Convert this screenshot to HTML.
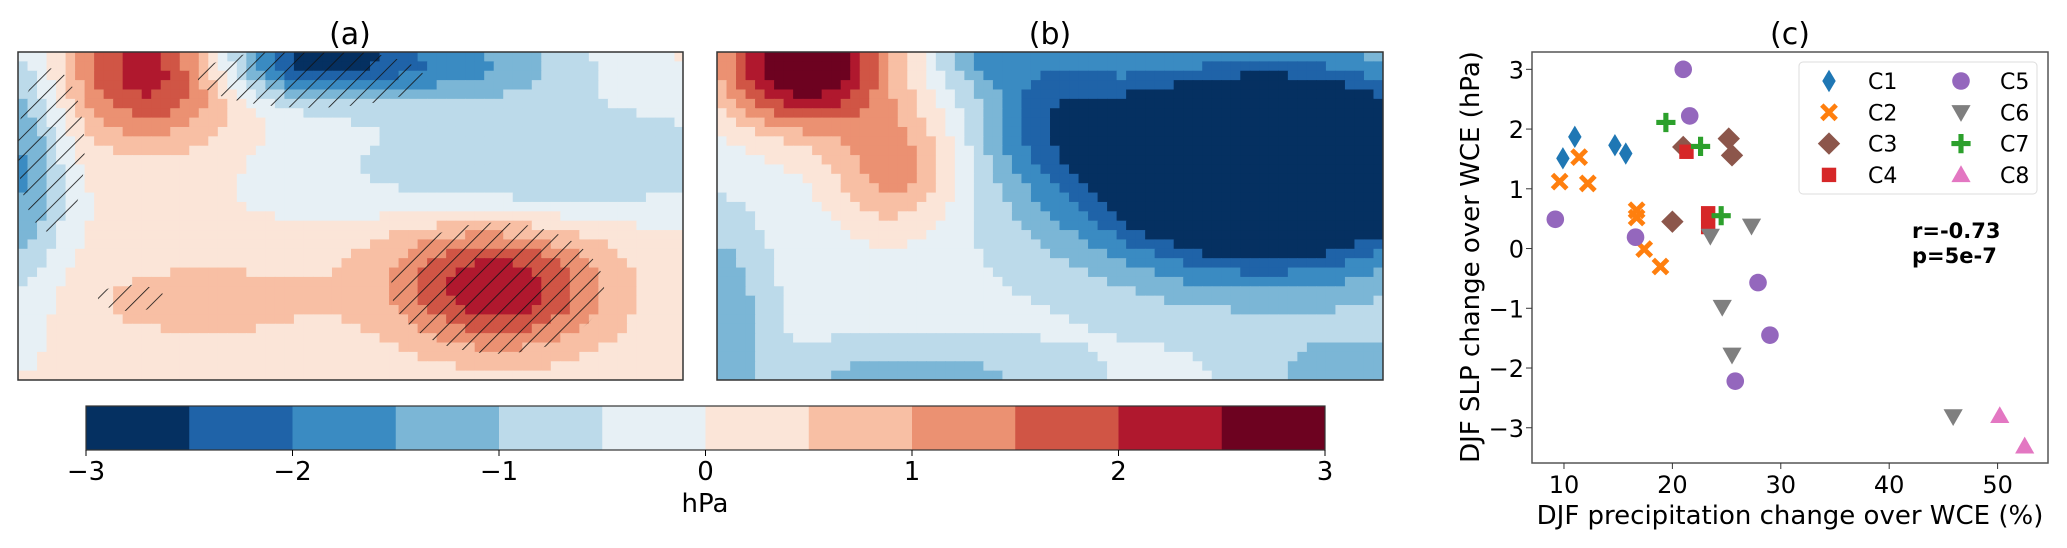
<!DOCTYPE html>
<html><head><meta charset="utf-8"><style>
body{margin:0;background:#fff;width:2067px;height:544px;overflow:hidden;font-family:"DejaVu Sans","Liberation Sans",sans-serif}
svg text{font-family:"DejaVu Sans","Liberation Sans",sans-serif}
</style></head><body>
<svg id="fig" width="2067" height="544" viewBox="0 0 2067 544" xmlns="http://www.w3.org/2000/svg">
<defs>
<pattern id="hatch" patternUnits="userSpaceOnUse" width="14" height="14" patternTransform="rotate(45)"><line x1="0" y1="0" x2="0" y2="14" stroke="#111" stroke-width="1.6"/></pattern>
<clipPath id="clipA"><rect x="18" y="52" width="665" height="328"/></clipPath>
<clipPath id="clipB"><rect x="717" y="52" width="666" height="328"/></clipPath>
</defs>
<g id="mapA" clip-path="url(#clipA)"></g>
<g id="mapB" clip-path="url(#clipB)"></g>
<rect x="18" y="52" width="665" height="328" fill="none" stroke="#333" stroke-width="1.5"/>
<rect x="717" y="52" width="666" height="328" fill="none" stroke="#333" stroke-width="1.5"/>
<text x="350" y="44" font-size="30" text-anchor="middle">(a)</text>
<text x="1050" y="44" font-size="30" text-anchor="middle">(b)</text>
<g id="cbar"></g>
<text x="705" y="512" font-size="26" text-anchor="middle">hPa</text>
<g id="scatter"></g>
<text x="1790" y="44" font-size="30" text-anchor="middle">(c)</text>
</svg>
<script>
const NS="http://www.w3.org/2000/svg";
const cmap=["#053061","#1f63a8","#3a8bc2","#7bb6d6","#bcdaea","#e7f0f5","#fbe5d8","#f8bfa4","#eb9172","#d05545","#b0182e","#6d0220"];
const cbarTicks=[-3,-2,-1,0,1,2,3];
// anomaly centres for the maps: [u, v, value, sigmaU, sigmaV]
const blobsA=[[0.2,0.05,2.3,0.09,0.15],[0.44,0.02,-2.7,0.11,0.09],[0.68,0.04,-1.5,0.13,0.09],[0.0,0.35,-1.7,0.05,0.28],[0.66,0.32,-0.7,0.2,0.1],[0.92,0.3,-0.7,0.15,0.12],[0.7,0.45,-0.4,0.2,0.07],[0.73,0.73,2.1,0.11,0.13],[0.28,0.76,0.6,0.15,0.1],[0.64,0.64,0.4,0.1,0.12]];
const baseA=0.12;
const blobsB=[[0.13,0.03,3.6,0.09,0.14],[0.27,0.35,1.6,0.07,0.14],[0.82,0.35,-5.0,0.2,0.22],[0.5,0.15,-1.2,0.08,0.15],[0.0,0.8,-1.2,0.05,0.2],[0.3,1.0,-1.0,0.15,0.08],[0.95,1.0,-1.0,0.1,0.1],[0.4,0.02,-1.0,0.05,0.05]];
const baseB=-0.3;
const hatchA=[[0.44,0.08,0.17,0.09],[0.72,0.72,0.16,0.2],[0.05,0.3,0.05,0.25],[0.17,0.75,0.05,0.04]];
const xCats=["C1","C2","C3","C4","C5","C6","C7","C8"];
const xC1=[9.9,11.0,14.7,15.7]; const yC1=[1.51,1.87,1.73,1.59];
const xC2=[11.4,9.6,12.2,16.7,16.7,17.4,18.9]; const yC2=[1.53,1.12,1.09,0.64,0.52,-0.01,-0.30];
const xC3=[21.0,25.2,25.5,20.0]; const yC3=[1.70,1.84,1.56,0.45];
const xC4=[21.3,23.3,23.3]; const yC4=[1.62,0.59,0.36];
const xC5=[21.0,21.6,9.2,16.6,27.9,29.0,25.8]; const yC5=[3.0,2.22,0.49,0.19,-0.57,-1.45,-2.22];
const xC6=[27.3,23.5,24.6,25.5,45.9]; const yC6=[0.38,0.21,-0.98,-1.78,-2.81];
const xC7=[19.4,22.6,24.5]; const yC7=[2.11,1.71,0.55];
const xC8=[50.2,52.5]; const yC8=[-2.80,-3.31];
const xTicks=[10,20,30,40,50]; const yTicks=[-3,-2,-1,0,1,2,3];
const seriesX=[xC1,xC2,xC3,xC4,xC5,xC6,xC7,xC8];
const seriesY=[yC1,yC2,yC3,yC4,yC5,yC6,yC7,yC8];
const colors=["#1f77b4","#ff7f0e","#8c564b","#d62728","#9467bd","#7f7f7f","#2ca02c","#e377c2"];
const shapes=["thin_diamond","x","diamond","square","circle","tri_down","plus","tri_up"];

function el(tag,attrs,parent){const e=document.createElementNS(NS,tag);for(const k in attrs)e.setAttribute(k,attrs[k]);parent.appendChild(e);return e;}
function colorFor(v){let i=Math.floor((v+3)/0.5);if(i<0)i=0;if(i>11)i=11;return cmap[i];}
function field(blobs,base,u,v){let s=base;for(const b of blobs){const du=(u-b[0])/b[3],dv=(v-b[1])/b[4];s+=b[2]*Math.exp(-0.5*(du*du+dv*dv));}return s;}
function drawMap(g,x0,blobs,base,hatch){
  const W=666,H=328,nx=70,ny=35,cw=W/nx,ch=H/ny;
  for(let j=0;j<ny;j++)for(let i=0;i<nx;i++){
    const v=field(blobs,base,(i+0.5)/nx,(j+0.5)/ny);
    const r=el("rect",{x:x0+i*cw,y:52+j*ch,width:cw+0.6,height:ch+0.6,fill:colorFor(v)},g);
    
    
  }
  if(hatch)for(const h of hatch){
    const e=el("ellipse",{cx:x0+h[0]*W,cy:52+h[1]*H,rx:h[2]*W,ry:h[3]*H,fill:"url(#hatch)"},g);
    
    
  }
}
drawMap(document.getElementById("mapA"),18,blobsA,baseA,hatchA);
drawMap(document.getElementById("mapB"),717,blobsB,baseB,null);

const cb=document.getElementById("cbar");
const cbX0=86,cbX1=1325,cbY0=406,cbY1=450;
const cx=v=>cbX0+(v+3)/6*(cbX1-cbX0);
for(let k=0;k<12;k++){
  const r=el("rect",{x:cx(-3+k*0.5),y:cbY0,width:(cbX1-cbX0)/12+0.5,height:cbY1-cbY0,fill:cmap[k]},cb);
  
  
}
el("rect",{x:cbX0,y:cbY0,width:cbX1-cbX0,height:cbY1-cbY0,fill:"none",stroke:"#333","stroke-width":1.2},cb);
for(const t of cbarTicks){
  el("line",{x1:cx(t),x2:cx(t),y1:cbY1,y2:cbY1+6,stroke:"#000"},cb);
  const tx=el("text",{x:cx(t),y:480,"font-size":26,"text-anchor":"middle"},cb);
  tx.textContent=(t<0?"\u2212"+(-t):String(t));
  
  
}

const sg=document.getElementById("scatter");
const PX0=1532,PX1=2048,PY0=52,PY1=463;
const xmin=7.05,xmax=54.65,ymin=-3.59,ymax=3.29;
const sx=v=>PX0+(v-xmin)/(xmax-xmin)*(PX1-PX0);
const sy=v=>PY1-(v-ymin)/(ymax-ymin)*(PY1-PY0);
function marker(g,shape,x,y,c,s){
  let e;
  if(shape==="circle")e=el("circle",{cx:x,cy:y,r:s*0.55,fill:c},g);
  else if(shape==="square")e=el("rect",{x:x-s*0.45,y:y-s*0.45,width:s*0.9,height:s*0.9,fill:c},g);
  else if(shape==="diamond")e=el("polygon",{points:`${x},${y-s*0.7} ${x+s*0.7},${y} ${x},${y+s*0.7} ${x-s*0.7},${y}`,fill:c},g);
  else if(shape==="thin_diamond")e=el("polygon",{points:`${x},${y-s*0.7} ${x+s*0.42},${y} ${x},${y+s*0.7} ${x-s*0.42},${y}`,fill:c},g);
  else if(shape==="tri_down")e=el("polygon",{points:`${x-s*0.6},${y-s*0.45} ${x+s*0.6},${y-s*0.45} ${x},${y+s*0.6}`,fill:c},g);
  else if(shape==="tri_up")e=el("polygon",{points:`${x-s*0.6},${y+s*0.45} ${x+s*0.6},${y+s*0.45} ${x},${y-s*0.6}`,fill:c},g);
  else if(shape==="plus")e=el("path",{d:`M${x-s*0.6},${y}H${x+s*0.6}M${x},${y-s*0.6}V${y+s*0.6}`,stroke:c,"stroke-width":s*0.32,fill:"none"},g);
  else if(shape==="x")e=el("path",{d:`M${x-s*0.45},${y-s*0.45}L${x+s*0.45},${y+s*0.45}M${x+s*0.45},${y-s*0.45}L${x-s*0.45},${y+s*0.45}`,stroke:c,"stroke-width":s*0.3,fill:"none"},g);
  return e;
}
for(let k=0;k<8;k++){
  for(let i=0;i<seriesX[k].length;i++){
    const m=marker(sg,shapes[k],sx(seriesX[k][i]),sy(seriesY[k][i]),colors[k],16);
    
    
  }
}
el("rect",{x:PX0,y:PY0,width:PX1-PX0,height:PY1-PY0,fill:"none",stroke:"#555","stroke-width":1.5},sg);
for(const t of xTicks){
  el("line",{x1:sx(t),x2:sx(t),y1:PY1,y2:PY1+6,stroke:"#333"},sg);
  const tx=el("text",{x:sx(t),y:493,"font-size":24,"text-anchor":"middle"},sg);
  tx.textContent=String(t);
  
  
}
for(const t of yTicks){
  el("line",{x1:PX0-6,x2:PX0,y1:sy(t),y2:sy(t),stroke:"#333"},sg);
  const tx=el("text",{x:1524,y:sy(t)+9,"font-size":24,"text-anchor":"end"},sg);
  tx.textContent=(t<0?"\u2212"+(-t):String(t));
  
  
}
const xl=el("text",{x:1790,y:524,"font-size":26,"text-anchor":"middle"},sg);
xl.textContent="DJF precipitation change over WCE (%)";


const yl=el("text",{x:0,y:0,"font-size":26,"text-anchor":"middle",transform:"translate(1479,257) rotate(-90)"},sg);
yl.textContent="DJF SLP change over WCE (hPa)";


const lg=el("g",{},sg);


el("rect",{x:1799,y:62,width:238,height:132,rx:4,fill:"#fff","fill-opacity":0.85,stroke:"#ddd"},lg);
for(let k=0;k<8;k++){
  const col=k<4?0:1,row=k%4;
  const mx=col?1961:1829, my=81+row*31.3;
  marker(lg,shapes[k],mx,my,colors[k],16);
  const t=el("text",{x:mx+39,y:my+8,"font-size":22},lg);
  t.textContent=xCats[k];
  
  
}
const r1=el("text",{x:1912,y:238,"font-size":21,"font-weight":"bold"},sg);
r1.textContent="r=-0.73";


const r2=el("text",{x:1912,y:263,"font-size":21,"font-weight":"bold"},sg);
r2.textContent="p=5e-7";


</script>
</body></html>
